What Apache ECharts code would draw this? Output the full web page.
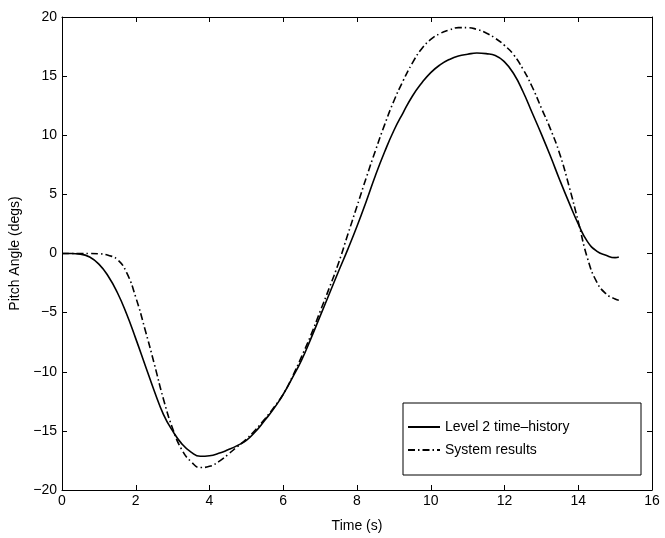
<!DOCTYPE html>
<html>
<head>
<meta charset="utf-8">
<script src="https://cdn.jsdelivr.net/npm/echarts@6/dist/echarts.min.js"></script>
<style>
html,body{margin:0;padding:0;background:#fff;}
#chart{width:665px;height:538px;}
</style>
</head>
<body>
<div id="chart"></div>
<script>
const timeS = [0,0.25,0.5,0.75,1.0,1.25,1.5,1.75,2.0,2.25,2.5,2.75,3.0,3.25,3.5,3.75,4.0,4.25,4.5,4.75,5.0,5.25,5.5,5.75,6.0,6.25,6.5,6.75,7.0,7.25,7.5,7.75,8.0,8.25,8.5,8.75,9.0,9.25,9.5,9.75,10.0,10.25,10.5,10.75,11.0,11.25,11.5,11.75,12.0,12.25,12.5,12.75,13.0,13.25,13.5,13.75,14.0,14.25,14.5,14.75,15.0,15.1];
const level2 = [0,0,-0.05,-0.3,-0.9,-1.9,-3.3,-5.1,-7.2,-9.4,-11.6,-13.6,-15.0,-16.1,-16.8,-17.15,-17.1,-16.9,-16.6,-16.25,-15.8,-15.05,-14.1,-13.1,-11.9,-10.5,-9.0,-7.2,-5.3,-3.4,-1.5,0.35,2.3,4.4,6.6,8.6,10.4,11.9,13.3,14.4,15.3,15.95,16.4,16.7,16.85,16.95,16.9,16.75,16.2,15.2,13.7,11.9,10.1,8.2,6.2,4.3,2.5,1.0,0.2,-0.15,-0.35,-0.3];
const system = [0,0,0,0,-0.02,-0.15,-0.5,-1.6,-3.7,-6.4,-9.3,-12.3,-14.8,-16.6,-17.6,-18.1,-18.0,-17.6,-17.0,-16.35,-15.7,-14.9,-14.0,-13.0,-11.9,-10.4,-8.7,-6.9,-4.9,-2.9,-0.8,1.6,4.0,6.4,8.7,10.9,12.9,14.6,16.1,17.3,18.1,18.6,18.9,19.1,19.1,18.95,18.65,18.2,17.6,16.8,15.6,14.1,12.3,10.5,8.4,5.7,2.7,-0.4,-2.4,-3.4,-3.85,-3.95];
const seriesNames = ['Level 2 time\u2013history','System results'];
const xTicks = {min:0,max:16,interval:2};
const yTicks = {min:-20,max:20,interval:5};

const FONT = '"Liberation Sans", Arial, Helvetica, sans-serif';
const fmt = v => String(v).replace('-', '\u2212');
const chart = echarts.init(document.getElementById('chart'), null, {renderer:'canvas'});
const axisLine = {show:true, onZero:false, lineStyle:{color:'#000', width:1}};
const tickStyle = {show:true, inside:true, length:5, lineStyle:{color:'#000', width:1}};
const labelStyle = {color:'#000', fontFamily:FONT, fontSize:14, formatter: fmt};

chart.setOption({
  backgroundColor:'#fff',
  animation:false,
  grid:{left:62, right:13, top:17, bottom:48},
  xAxis:[{
    type:'value', min:xTicks.min, max:xTicks.max, interval:xTicks.interval, position:'bottom',
    name:'Time (s)', nameLocation:'middle', nameGap:29,
    nameTextStyle:{color:'#000', fontFamily:FONT, fontSize:14},
    axisLine:axisLine, axisTick:tickStyle,
    axisLabel:Object.assign({margin:4}, labelStyle), splitLine:{show:false}
  },{
    type:'value', min:xTicks.min, max:xTicks.max, interval:xTicks.interval, position:'top',
    axisLine:axisLine, axisTick:tickStyle,
    axisLabel:{show:false}, splitLine:{show:false}
  }],
  yAxis:[{
    type:'value', min:yTicks.min, max:yTicks.max, interval:yTicks.interval, position:'left',
    name:'Pitch Angle (degs)', nameLocation:'middle', nameGap:33,
    nameTextStyle:{color:'#000', fontFamily:FONT, fontSize:14},
    axisLine:axisLine, axisTick:tickStyle,
    axisLabel:Object.assign({margin:5}, labelStyle), splitLine:{show:false}
  },{
    type:'value', min:yTicks.min, max:yTicks.max, interval:yTicks.interval, position:'right',
    axisLine:axisLine, axisTick:tickStyle,
    axisLabel:{show:false}, splitLine:{show:false}
  }],
  legend:{
    orient:'vertical', left:407, top:420, padding:0, itemGap:9, z:10,
    itemWidth:32, itemHeight:14,
    itemStyle:{opacity:0},
    textStyle:{color:'#000', fontFamily:FONT, fontSize:14, padding:[0,0,0,0]},
    data:seriesNames
  },
  graphic:[{
    type:'rect', shape:{x:403, y:403, width:238, height:72},
    style:{fill:'#fff', stroke:'#000', lineWidth:1}, z:3
  }],
  series:[{
    name:seriesNames[0], type:'line', smooth:0.5, symbol:'none', showSymbol:false,
    data: timeS.map((t,i)=>[t, level2[i]]),
    lineStyle:{color:'#000', width:1.6, type:'solid'}, itemStyle:{color:'#000'}
  },{
    name:seriesNames[1], type:'line', smooth:0.5, symbol:'none', showSymbol:false,
    data: timeS.map((t,i)=>[t, system[i]]),
    lineStyle:{color:'#000', width:1.6, type:[7,3,1.5,3]}, itemStyle:{color:'#000'}
  }]
});
</script>
</body>
</html>
